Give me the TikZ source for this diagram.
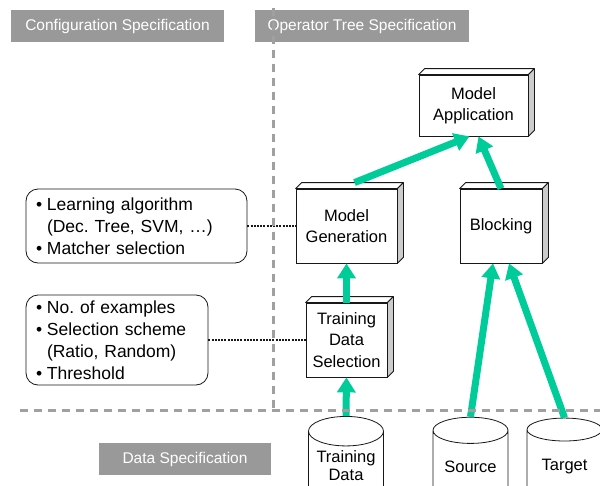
\documentclass[tikz,border=0pt]{standalone}
\usepackage{fontspec}
\setmainfont{Liberation Sans}
\frenchspacing
\usetikzlibrary{arrows.meta,calc,shapes.geometric}
\definecolor{diagcolor0000}{RGB}{153,153,153}
\definecolor{diagcolor0001}{RGB}{24,24,24}
\definecolor{diagcolor0002}{RGB}{204,204,204}
\definecolor{diagcolor0003}{RGB}{0,204,153}
\definecolor{diagcolor0004}{RGB}{160,160,160}
\newcommand{\itm}{\makebox[11pt][l]{•}}
\newcommand{\ind}{\hspace*{11pt}}
\begin{document}
\begin{tikzpicture}[yscale=-1
                ,hstyle/.style={fill=diagcolor0000,text=white,inner sep=0pt,minimum height=32pt,font=\fontsize{15.5}{18}\selectfont}
                ,bstyle/.style={draw=diagcolor0001,fill=white,line width=0.8pt,align=center,inner sep=0pt,minimum height=74pt,font=\fontsize{16.5}{21.5}\selectfont}
                ,fstyle/.style={draw=diagcolor0001,line width=0.8pt,line join=round}
                ,cstyle/.style={draw=diagcolor0001,fill=white,line width=0.8pt,rounded corners=12pt,align=left,inner xsep=10pt,inner ysep=0pt,font=\fontsize{17.5}{22}\selectfont}
                ,dstyle/.style={cylinder,shape border rotate=90,aspect=0.5,draw=diagcolor0001,fill=white,line width=0.8pt,minimum width=75pt,minimum height=86pt,align=center,inner sep=0pt,font=\fontsize{16.5}{21}\selectfont}
                ,astyle/.style={color=diagcolor0003,line width=7pt,-{Triangle[width=18pt,length=15pt]}}
                ,lstyle/.style={color=diagcolor0001,line width=2pt,dash pattern=on 2pt off 1.2pt}
                ,gstyle/.style={color=diagcolor0004,line width=3pt,dash pattern=on 8pt off 6pt}
            ]
            \useasboundingbox (0pt,0pt) rectangle (600pt,485pt);
            % headers
            \node[hstyle,minimum width=213pt] (cfghdr) at (117.5pt,26pt) {Configuration Specification};
            \node[hstyle,minimum width=214pt] (treehdr) at (362pt,26pt) {Operator Tree Specification};
            \node[hstyle,minimum width=172pt] (datahdr) at (185pt,459pt) {Data Specification};
            % operators
            \node[bstyle,minimum width=109pt,minimum height=61pt] (app) at (473.5pt,105.5pt) {Model\\Application};
            \node[bstyle,minimum width=101pt] (gen) at (346.5pt,226pt) {Model\\Generation};
            \node[bstyle,minimum width=82pt] (blk) at (501pt,226pt) {Blocking};
            \node[bstyle,minimum width=81pt] (tds) at (346.5pt,340pt) {Training\\Data\\Selection};
            \foreach \n in {app,gen,blk,tds}{
                \draw[fstyle,fill=white] (\n.north west) -- ++(6pt,-6pt) -- ($(\n.north east)+(6pt,-6pt)$) -- (\n.north east) -- cycle;
                \draw[fstyle,fill=diagcolor0002] (\n.north east) -- ++(6pt,-6pt) -- ($(\n.south east)+(6pt,-6pt)$) -- (\n.south east) -- cycle;
            }
            % configuration
            \node[cstyle,text width=201pt,minimum height=74pt] (cfggen) at (136.5pt,226pt) {\itm Learning algorithm\\\ind(Dec. Tree, SVM, \dots)\\\itm Matcher selection};
            \node[cstyle,text width=162pt,minimum height=90pt] (cfgtds) at (117pt,340pt) {\itm No. of examples\\\itm Selection scheme\\\ind(Ratio, Random)\\\itm Threshold};
            \draw[lstyle] (cfggen.east) -- (gen.west);
            \draw[lstyle] (cfgtds.east) -- (tds.west);
            % data
            \node[dstyle] (trdata) at (346pt,467pt) {\raisebox{3pt}{\shortstack{Training\\Data}}};
            \node[dstyle] (src) at (470.5pt,467pt) {Source};
            \node[dstyle] (tgt) at (564.5pt,467pt) {Target};
            % flow
            \draw[astyle] (trdata.north) -- (tds.south);
            \draw[astyle] (tds.north) -- (gen.south);
            \draw[astyle] (src.north) -- ($(blk.south)+(-8pt,0pt)$);
            \draw[astyle] (tgt.north) -- ($(blk.south)+(8pt,0pt)$);
            \draw[astyle] ($(gen.north)+(8pt,-6pt)$) -- ($(app.south)+(-4pt,0pt)$);
            \draw[astyle] (blk.north) -- ($(app.south)+(5pt,0pt)$);
            % separators
            \draw[gstyle] (273pt,8pt) -- (273pt,410pt);
            \draw[gstyle] (20pt,410pt) -- (600pt,410pt);
        \end{tikzpicture}
\end{document}
